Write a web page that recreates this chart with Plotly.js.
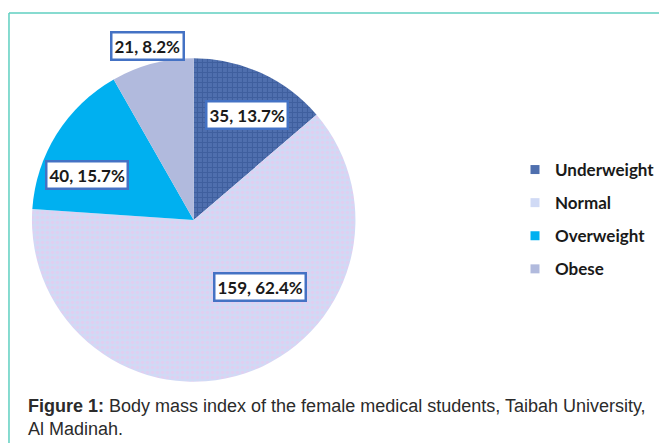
<!DOCTYPE html>
<html><head><meta charset="utf-8">
<script src="https://cdn.plot.ly/plotly-3.0.1.min.js"></script>
<style>html,body{margin:0;padding:0;background:#fff}#chart{width:660px;height:443px}</style>
</head><body><div id="chart"></div>
<script>
const categories = ["Underweight", "Normal", "Overweight", "Obese"];
const counts = [35, 159, 40, 21];
const sliceColors = ["#4f6fae", "#d0daf5", "#00b0f0", "#b1badd"];
const patternShapes = ["+", ".", "", ""];
const patternFg = ["#2f4f8e", "#efc3ec", "#00b0f0", "#b1badd"];
const legendColors = ["#4f6fae", "#d0daf5", "#00b0f0", "#b1badd"];
const labelPos = [[247,115],[260,287],[87,175],[148,46]];

const W=660,H=443;
const total = counts.reduce((a,b)=>a+b,0);
const labelTexts = counts.map(v => v + ", " + (v/total*100).toFixed(1) + "%");

const cx=194, cy=220, r=162;
const pie = {
  type:"pie", labels:categories, values:counts, sort:false, direction:"clockwise", rotation:0,
  textinfo:"none", hoverinfo:"none", showlegend:false,
  marker:{colors:sliceColors, line:{width:0},
    pattern:{shape:patternShapes, fgcolor:patternFg, bgcolor:sliceColors, size:5, solidity:0.4, fillmode:"overlay"}},
  domain:{x:[(cx-r)/W,(cx+r)/W], y:[(H-cy-r)/H,(H-cy+r)/H]}
};
const legendTraces = categories.map((c,i)=>({
  type:"scatter", mode:"markers", x:[null], y:[null], name:c, legendgroup:c,
  marker:{symbol:"square", size:9, color:legendColors[i]}, hoverinfo:"none"
}));

const annotations = labelTexts.map((t,i)=>({
  text:t, x:labelPos[i][0]/W, y:1-labelPos[i][1]/H, xref:"paper", yref:"paper",
  showarrow:false, xanchor:"center", yanchor:"middle",
  font:{family:"Lato, 'Open Sans', sans-serif", size:17, color:"#1a1a1a", weight:"bold"},
  bgcolor:"#ffffff", bordercolor:"#4472c4", borderwidth:2.5, borderpad:2
}));
annotations.push({
  text:"<b>Figure 1:</b> Body mass index of the female medical students, Taibah University,<br>Al Madinah.",
  x:26/W, y:1-394/H, xref:"paper", yref:"paper", xanchor:"left", yanchor:"top", align:"left",
  showarrow:false, font:{family:"'Liberation Sans', Arial, sans-serif", size:18, color:"#2b2b2b"}
});

const layout = {
  width:W, height:H, margin:{l:0,r:0,t:0,b:0}, paper_bgcolor:"#fff", plot_bgcolor:"rgba(0,0,0,0)",
  xaxis:{visible:false, domain:[0.8,0.81]}, yaxis:{visible:false, domain:[0.5,0.51]},
  showlegend:true,
  legend:{x:516/W, y:1-152/H, xanchor:"left", yanchor:"top", tracegroupgap:8,
    font:{family:"Lato, 'Open Sans', sans-serif", size:17, color:"#1a1a1a", weight:"bold"},
    itemwidth:30, bgcolor:"rgba(0,0,0,0)"},
  annotations:annotations,
  shapes:[
    {type:"line", xref:"paper", yref:"paper", x0:9/W, x1:1, y0:1-13/H, y1:1-13/H, line:{color:"#5fcfc0", width:1.5}},
    {type:"line", xref:"paper", yref:"paper", x0:9/W, x1:9/W, y0:1-13/H, y1:0, line:{color:"#5fcfc0", width:1.5}}
  ]
};
Plotly.newPlot("chart", [pie].concat(legendTraces), layout, {displayModeBar:false, staticPlot:true});
</script></body></html>
